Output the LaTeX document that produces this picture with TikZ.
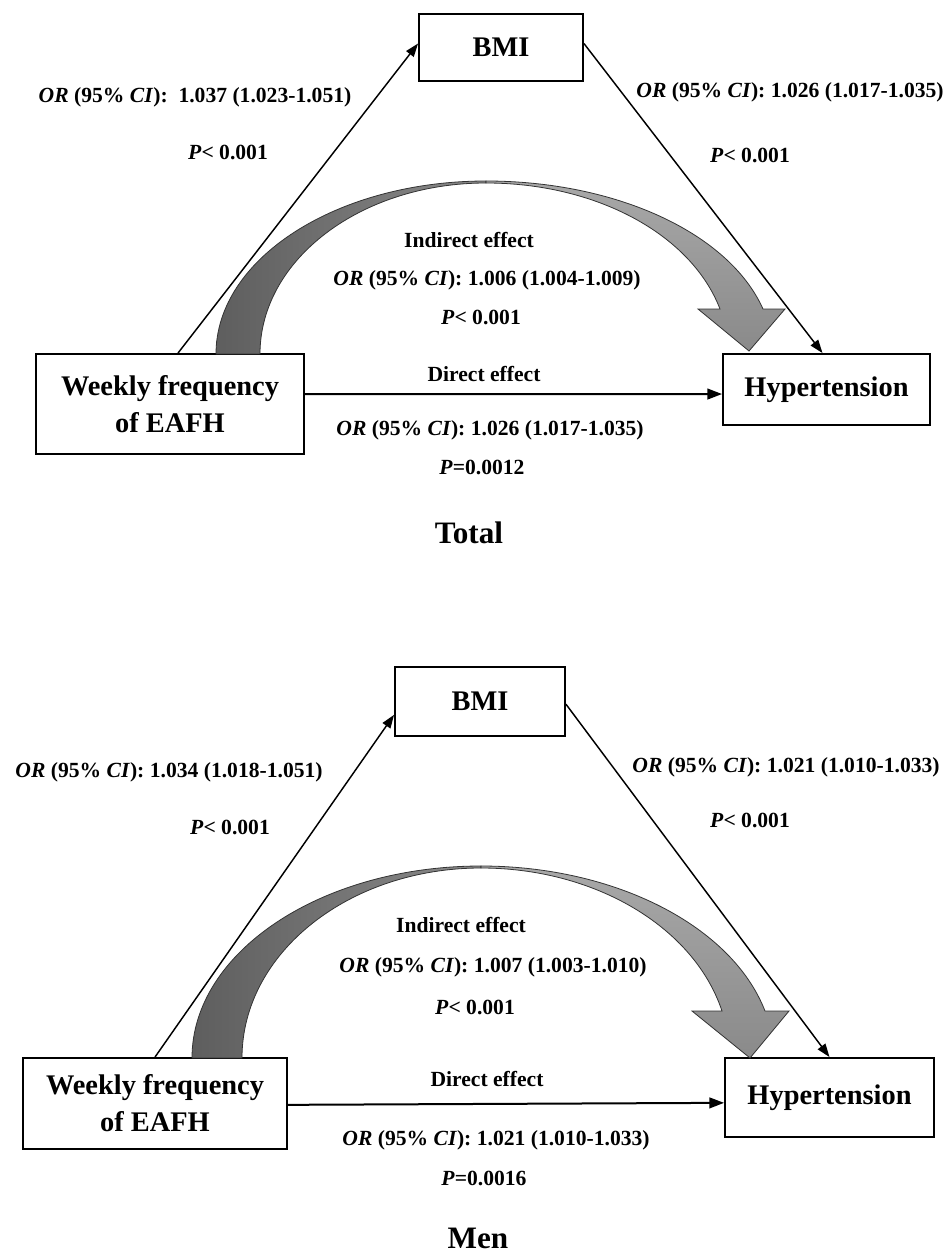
\documentclass[tikz,border=0pt]{standalone}
\usepackage{fontspec}
\setmainfont{Liberation Serif}
\usetikzlibrary{arrows.meta,calc,positioning}
\definecolor{arcdark}{HTML}{5E5E5E}
\definecolor{arcmid}{HTML}{8A8A8A}
\definecolor{arclight}{HTML}{A8A8A8}
\newcommand{\orci}{\textit{OR} (95\% \textit{CI}):}

\begin{document}
\begin{tikzpicture}[x=0.75pt,y=-0.75pt,
    varbox/.style={draw, line width=1.4pt, inner sep=0pt, align=center,
      font=\fontsize{21.3}{27.75}\selectfont\bfseries},
    stat/.style={inner sep=0pt, font=\fontsize{16.2}{19}\selectfont\bfseries},
    heading/.style={inner sep=0pt, font=\fontsize{23.4}{28}\selectfont\bfseries},
    path arrow/.style={line width=1.1pt, -{Triangle[length=10pt,width=7pt]}},
    direct arrow/.style={line width=1.5pt, -{Triangle[length=11pt,width=8pt]}},
    band/.style={draw=black!80, line width=0.6pt}]
    \useasboundingbox (0,0) rectangle (946,1255);

    % Total
    \node[varbox, minimum width=123pt, minimum height=50.25pt] (bmiA) at (501,47.5) {BMI};
    \node[varbox, minimum width=201pt, minimum height=75pt] (wkA) at (170,404) {Weekly frequency\\of EAFH};
    \node[varbox, minimum width=155.25pt, minimum height=53.25pt] (hypA) at (826.5,389.5) {Hypertension};
    % curved indirect arrow
    \shadedraw[band, left color=arcdark, right color=arcmid]
      (216,354) .. controls (216,258.5) and (337,181) .. (486,181)
      -- (486,183) .. controls (361,183) and (260,259.6) .. (260,354) -- cycle;
    \shadedraw[band, top color=arclight, bottom color=arcmid]
      (486,181) .. controls (616,181) and (729,233) .. (763,309)
      -- (785,309) -- (749,351) -- (698,309) -- (720,309)
      .. controls (691,234) and (596,183) .. (486,183) -- cycle;
    \draw[path arrow] ([xshift=6pt]wkA.north) -- ([yshift=3pt]bmiA.west);
    \draw[path arrow] ([yshift=3pt]bmiA.east) -- ([xshift=-3pt]hypA.north);
    \draw[direct arrow] ([yshift=7.5pt]wkA.east) -- ([yshift=-3.4pt]hypA.west);
    \node[stat] (lorA) at (195,97) {\orci\enspace 1.037 (1.023-1.051)};
    \node[stat] (lpA) at (228,152) {\textit{P}< 0.001};
    \node[stat] (rorA) at (790,92) {\orci\ 1.026 (1.017-1.035)};
    \node[stat] (rpA) at (750,155) {\textit{P}< 0.001};
    \node[stat] (indA) at (469,240) {Indirect effect};
    \node[stat] (iorA) at (487,280) {\orci\ 1.006 (1.004-1.009)};
    \node[stat] (ipA) at (481,317) {\textit{P}< 0.001};
    \node[stat] (dirA) at (484,374) {Direct effect};
    \node[stat] (dorA) at (490,430) {\orci\ 1.026 (1.017-1.035)};
    \node[stat] (dpA) at (482,467) {\textit{P}=0.0012};
    \node[heading] (total) at (469,533) {Total};

    % Men
    \node[varbox, minimum width=127.5pt, minimum height=51.75pt] (bmiB) at (480,701.5) {BMI};
    \node[varbox, minimum width=198pt, minimum height=68.25pt] (wkB) at (155,1103.5) {Weekly frequency\\of EAFH};
    \node[varbox, minimum width=156.75pt, minimum height=59.25pt] (hypB) at (829.5,1097.5) {Hypertension};
    % curved indirect arrow
    \shadedraw[band, left color=arcdark, right color=arcmid]
      (192,1058) .. controls (192,952) and (321.5,866) .. (481,866)
      -- (481,868) .. controls (349,868) and (242,953) .. (242,1058) -- cycle;
    \shadedraw[band, top color=arclight, bottom color=arcmid]
      (481,866) .. controls (615,866) and (732,926) .. (765,1011)
      -- (789,1011) -- (750,1058) -- (692,1011) -- (722,1011)
      .. controls (694,927) and (595,868) .. (481,868) -- cycle;
    \draw[path arrow] (wkB.north) -- ([yshift=-10pt]bmiB.west);
    \draw[path arrow] ([yshift=-2pt]bmiB.east) -- (hypB.north);
    \draw[direct arrow] ([yshift=-1pt]wkB.east) -- ([yshift=-4pt]hypB.west);
    \node[stat] (lorB) at (169,772) {\orci\ 1.034 (1.018-1.051)};
    \node[stat] (lpB) at (230,827) {\textit{P}< 0.001};
    \node[stat] (rorB) at (786,767) {\orci\ 1.021 (1.010-1.033)};
    \node[stat] (rpB) at (750,820) {\textit{P}< 0.001};
    \node[stat] (indB) at (461,925) {Indirect effect};
    \node[stat] (iorB) at (493,967) {\orci\ 1.007 (1.003-1.010)};
    \node[stat] (ipB) at (475,1007) {\textit{P}< 0.001};
    \node[stat] (dirB) at (487,1079) {Direct effect};
    \node[stat] (dorB) at (496,1140) {\orci\ 1.021 (1.010-1.033)};
    \node[stat] (dpB) at (484,1178) {\textit{P}=0.0016};
    \node[heading] (men) at (478,1238) {Men};
\end{tikzpicture}
\end{document}
